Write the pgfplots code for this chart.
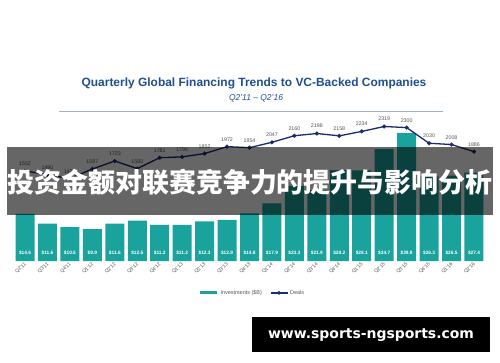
\documentclass[border=0pt]{standalone}
\usepackage{pgfplots}
\usepackage{pgfplotstable}
\pgfplotsset{compat=1.18}
\usepackage{fontspec}
\setmainfont{Liberation Sans}
\newfontfamily\cjk{Noto Sans CJK SC}
\newfontfamily\wm{DejaVu Sans}
\definecolor{barteal}{HTML}{1AA39D}
\definecolor{dealnavy}{HTML}{1C2B6E}
\definecolor{titleblue}{HTML}{1F4E8F}
\definecolor{lblgray}{HTML}{555555}
\definecolor{rulegray}{HTML}{9FB3C8}

\pgfplotstableread{
x inv deals
0 14.6 1552
1 11.6 1490
2 10.5 1420
3 9.9 1587
4 11.6 1723
5 12.5 1593
6 11.2 1781
7 11.2 1795
8 12.3 1852
9 12.8 1972
10 14.8 1954
11 17.9 2047
12 23.3 2160
13 21.9 2198
14 28.2 2158
15 28.1 2234
16 34.7 2319
17 39.8 2300
18 26.3 2030
19 26.5 2008
20 27.4 1886
}\data

\begin{document}
\begin{tikzpicture}[x=1bp,y=1bp]
\path[use as bounding box] (0,0) rectangle (500,362);
\fill[white] (0,0) rectangle (500,362);

\node[font=\bfseries\fontsize{12}{12}\selectfont, text=titleblue] at (254,279) {Quarterly Global Financing Trends to VC-Backed Companies};
\node[font=\itshape\fontsize{8.5}{8.5}\selectfont, text=titleblue] at (256,264) {Q2'11 -- Q2'16};
\draw[rulegray, line width=0.6bp] (59,251) -- (443,251);

\begin{axis}[
  at={(13.8bp,101bp)}, anchor=south west,
  scale only axis, width=471.4bp, height=145bp,
  xmin=-0.5, xmax=20.5, ymin=0, ymax=45,
  axis line style={draw=none},
  ytick=\empty,
  xtick={0,...,20},
  xticklabels={Q2'11,Q3'11,Q4'11,Q1'12,Q2'12,Q3'12,Q4'12,Q1'13,Q2'13,Q3'13,Q4'13,Q1'14,Q2'14,Q3'14,Q4'14,Q1'15,Q2'15,Q3'15,Q4'15,Q1'16,Q2'16},
  major tick length=0pt,
  xticklabel style={rotate=45, anchor=east, font=\fontsize{5}{5}\selectfont, text=lblgray, xshift=2bp, yshift=-2bp},
  /pgf/number format/assume math mode=true,
  legend columns=2,
  legend style={draw=none, fill=none, at={(0.506,-0.22)}, anchor=center, font=\fontsize{5.5}{5.5}\selectfont, text=lblgray, /tikz/every even column/.append style={column sep=6bp}},
  legend cell align=left,
]
\addplot[ybar, fill=barteal, draw=none, bar width=19bp, forget plot,
  visualization depends on={y \as \rawy},
  nodes near coords={\$\pgfmathprintnumber[fixed,precision=1]{\pgfplotspointmeta}},
  every node near coord/.style={shift={(axis direction cs:0,-\rawy)}, anchor=south, yshift=2.5bp, font=\bfseries\fontsize{4.8}{4.8}\selectfont, text=white},
] table[x=x, y=inv] {\data};
\addlegendimage{line legend, barteal, line width=3bp}
\addlegendentry{Investments (\$B)}
\addlegendimage{line legend, dealnavy, line width=1.2bp, mark=*, mark size=1.2bp}
\addlegendentry{Deals}
\end{axis}

\begin{axis}[
  at={(13.8bp,101bp)}, anchor=south west,
  scale only axis, width=471.4bp, height=145bp,
  xmin=-0.5, xmax=20.5, ymin=0, ymax=2500,
  axis lines=none,
  /pgf/number format/assume math mode=true,
  /pgf/number format/1000 sep={},
]
\addplot[dealnavy, line width=1.3bp, mark=*, mark size=1.3bp,
  nodes near coords,
  every node near coord/.style={anchor=south, yshift=1.5bp, font=\fontsize{5.3}{5.3}\selectfont, text=lblgray},
] table[x=x, y=deals] {\data};
\end{axis}

\fill[black, opacity=0.6] (7,147) rectangle (493,215);
\node[text=white, font=\cjk\bfseries\fontsize{27}{27}\selectfont] at (250,180) {投资金额对联赛竞争力的提升与影响分析};

\fill[black] (252,10) rectangle (490,45);
\node[text=white, font=\wm\bfseries\fontsize{14}{14}\selectfont] at (371,27) {www.sports-ngsports.com};
\end{tikzpicture}
\end{document}
